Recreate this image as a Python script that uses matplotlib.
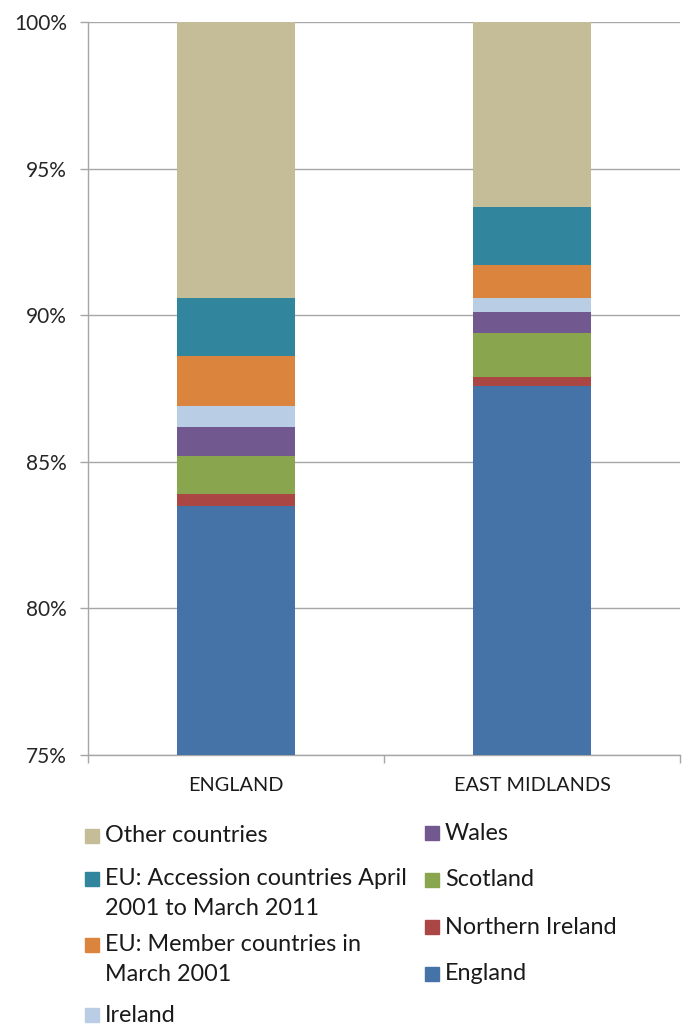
#!/usr/bin/env python
""" Country of birth, stacked percentage bars for England and East Midlands """

import numpy as np
import matplotlib
matplotlib.use('Agg')
import matplotlib.pyplot as plt
from matplotlib.patches import Rectangle

matplotlib.rcParams.update({'font.family': ['Lato', 'DejaVu Sans']})

areas = ['ENGLAND', 'EAST MIDLANDS']

# series, bottom of the stack first (percent of residents)
series = ['England', 'Northern Ireland', 'Scotland', 'Wales', 'Ireland',
          'EU: Member countries in\nMarch 2001',
          'EU: Accession countries April\n2001 to March 2011',
          'Other countries']
england = [83.5, 0.4, 1.3, 1.0, 0.7, 1.7, 2.0, 9.4]
east_midlands = [87.6, 0.3, 1.5, 0.7, 0.5, 1.1, 2.0, 6.3]
colours = ['#4572A7', '#AA4643', '#89A54E', '#71588F', '#B9CDE5',
           '#DB843D', '#31859C', '#C4BD97']

yticks = [75, 80, 85, 90, 95, 100]
ytick_labels = ['75%', '80%', '85%', '90%', '95%', '100%']

W, H = 684, 1025
fig = plt.figure(figsize=(W / 100, H / 100), dpi=100)
ax = fig.add_axes([88 / W, 1 - 755 / H, 592 / W, 733 / H])

vals = np.array([england, east_midlands])
x = np.arange(len(areas))
bottom = np.zeros(len(areas))
for i, name in enumerate(series):
    ax.bar(x, vals[:, i], 0.4, bottom=bottom, color=colours[i],
           edgecolor='none', zorder=3)
    bottom += vals[:, i]

grey = '#A6A6A6'
ax.set(xlim=(-0.5, 1.5), ylim=(75, 100))
ax.set_yticks(yticks)
ax.set_yticklabels(ytick_labels, fontsize=15, color='#262626')
ax.set_xticks(x)
ax.set_xticklabels(areas, fontsize=14.3, color='#1a1a1a')
ax.set_xticks([-0.5, 0.5, 1.5], minor=True)
ax.tick_params(axis='x', which='major', length=0, pad=16)
ax.tick_params(axis='x', which='minor', length=6, color=grey, width=1)
ax.tick_params(axis='y', length=6, color=grey, width=1, pad=9)
ax.yaxis.grid(True, color=grey, lw=1, zorder=0)
for s in ['top', 'right']:
    ax.spines[s].set_visible(False)
for s in ['left', 'bottom']:
    ax.spines[s].set_color(grey)
    ax.spines[s].set_linewidth(1)

# legend drawn by hand: two columns, rows placed like the original
left_col = [7, 6, 5, 4]
right_col = [3, 2, 1, 0]
left_rows = [836, 879, 945, 1015]
right_rows = [833, 880, 927, 974]

def legend_entry(i, xm, yc):
    fig.add_artist(Rectangle((xm / W, 1 - (yc + 7) / H), 14 / W, 14 / H,
                             transform=fig.transFigure, color=colours[i]))
    label = series[i]
    nlines = label.count('\n') + 1
    ytext = yc + (nlines - 1) * 14.5
    fig.text((xm + 20) / W, 1 - ytext / H, label, va='center', ha='left',
             fontsize=16.8, color='#1a1a1a', linespacing=1.55)

for i, yc in zip(left_col, left_rows):
    legend_entry(i, 85, yc)
for i, yc in zip(right_col, right_rows):
    legend_entry(i, 425, yc)

plt.savefig('out.png', dpi=100)
